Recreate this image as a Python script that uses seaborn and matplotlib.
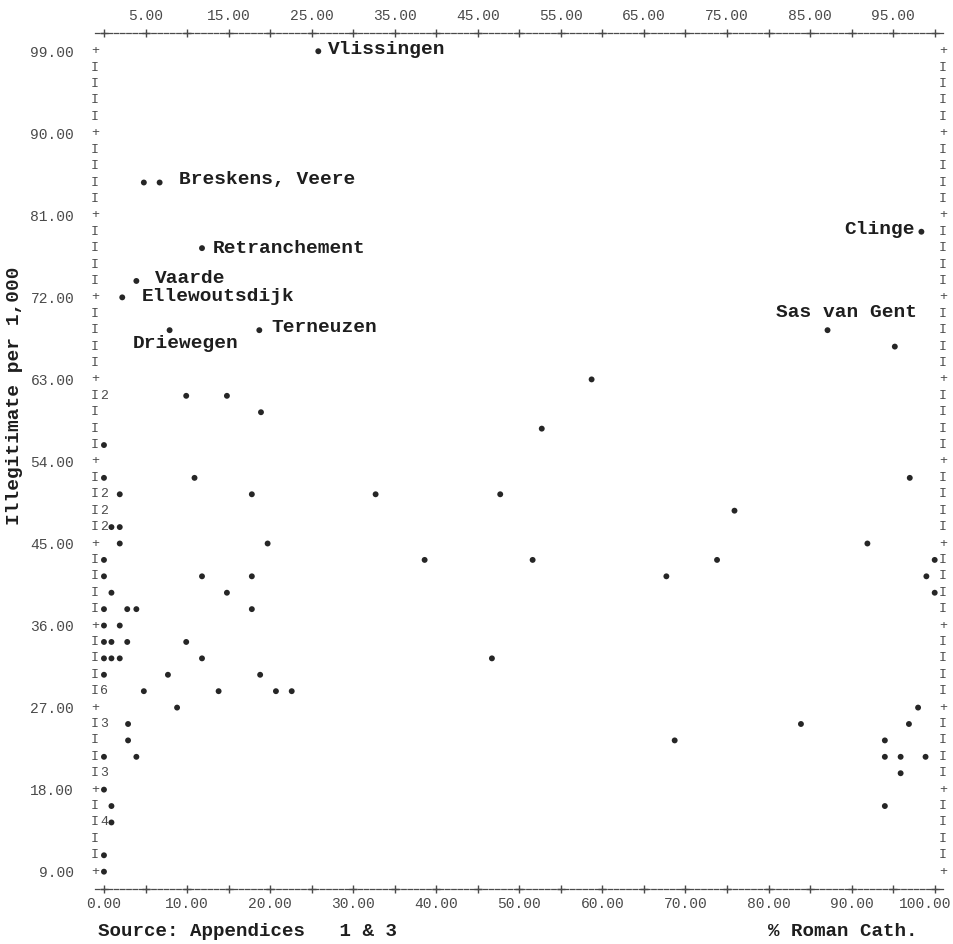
"""Line-printer style scatter: illegitimacy rate against % Roman Catholic."""

import numpy as np
import pandas as pd
import matplotlib

matplotlib.use("Agg")
import matplotlib.pyplot as plt
import matplotlib.transforms as mtransforms
import seaborn as sns

# named places: % Roman Catholic, illegitimate births per 1,000
place_names = ["Vlissingen", "Breskens", "Veere", "Retranchement", "Vaarde",
               "Ellewoutsdijk", "Driewegen", "Terneuzen", "Clinge", "Sas van Gent"]
place_pct = [25.8, 4.8, 6.7, 11.8, 3.9, 2.2, 7.9, 18.7, 98.4, 87.1]
place_rate = [99.0, 84.6, 84.6, 77.4, 73.8, 72.0, 68.4, 68.4, 79.2, 68.4]

# the rest of the communes (one row of the printout per line)
other_pct = [95.2,
             58.7,
             9.9, 14.8,
             18.9,
             52.7,
             0.0,
             0.0, 10.9, 97.0,
             1.9, 17.8, 32.7, 47.7,
             75.9,
             0.9, 1.9,
             1.9, 19.7, 91.9,
             0.0, 38.6, 51.6, 73.8, 100.0,
             0.0, 11.8, 17.8, 67.7, 99.0,
             0.9, 14.8, 100.0,
             0.0, 2.8, 3.9, 17.8,
             0.0, 1.9,
             0.0, 0.9, 2.8, 9.9,
             0.0, 0.9, 1.9, 11.8, 46.7,
             0.0, 7.7, 18.8,
             4.8, 13.8, 20.7, 22.6,
             8.8, 98.0,
             2.9, 83.9, 96.9,
             2.9, 68.7, 94.0,
             0.0, 3.9, 94.0, 95.9, 98.9,
             95.9,
             0.0,
             0.9, 94.0,
             0.9,
             0.0,
             0.0]
other_rate = [66.6,
              63.0,
              61.2, 61.2,
              59.4,
              57.6,
              55.8,
              52.2, 52.2, 52.2,
              50.4, 50.4, 50.4, 50.4,
              48.6,
              46.8, 46.8,
              45.0, 45.0, 45.0,
              43.2, 43.2, 43.2, 43.2, 43.2,
              41.4, 41.4, 41.4, 41.4, 41.4,
              39.6, 39.6, 39.6,
              37.8, 37.8, 37.8, 37.8,
              36.0, 36.0,
              34.2, 34.2, 34.2, 34.2,
              32.4, 32.4, 32.4, 32.4, 32.4,
              30.6, 30.6, 30.6,
              28.8, 28.8, 28.8, 28.8,
              27.0, 27.0,
              25.2, 25.2, 25.2,
              23.4, 23.4, 23.4,
              21.6, 21.6, 21.6, 21.6, 21.6,
              19.8,
              18.0,
              16.2, 16.2,
              14.4,
              10.8,
              9.0]

# several communes on the same print cell at 0 % (printer shows the count)
stacked_rate = [61.2, 50.4, 48.6, 46.8, 28.8, 25.2, 19.8, 14.4]
stacked_count = [2, 2, 2, 2, 6, 3, 3, 4]

x_bottom_ticks = [0, 10, 20, 30, 40, 50, 60, 70, 80, 90, 100]
x_top_ticks = [5, 15, 25, 35, 45, 55, 65, 75, 85, 95]
y_ticks = [9, 18, 27, 36, 45, 54, 63, 72, 81, 90, 99]

MONO = ["Liberation Mono", "DejaVu Sans Mono"]
INK = "#1e1e1e"
GREY = "#4a4a4a"


def main() -> None:
    sns.set_theme(style="white")
    plt.rcParams["font.family"] = MONO

    points = pd.DataFrame({
        "pct": place_pct + other_pct,
        "rate": place_rate + other_rate,
    })

    fig = plt.figure(figsize=(9.54, 9.44), dpi=100)
    ax = fig.add_axes([95 / 954, 1 - 889 / 944, 848 / 954, 856 / 944])
    sns.scatterplot(data=points, x="pct", y="rate", ax=ax, s=18,
                    color="#262626", edgecolor="none", linewidth=0)
    ax.set_xlim(-1.08, 101.0)
    ax.set_ylim(7.1, 101.0)
    ax.set_xlabel("")
    ax.set_ylabel("")

    # frame drawn like a line printer: dashes on top/bottom, I's at the sides
    for side in ("left", "right"):
        ax.spines[side].set_visible(False)
    for side in ("top", "bottom"):
        ax.spines[side].set_visible(True)
        ax.spines[side].set_linestyle((0, (3.6, 1.4)))
        ax.spines[side].set_linewidth(0.9)
        ax.spines[side].set_color(GREY)

    xtrans = mtransforms.blended_transform_factory(ax.transData, ax.transAxes)
    plus_x = sorted(x_bottom_ticks + x_top_ticks)
    for yy in (0, 1):
        ax.plot(plus_x, [yy] * len(plus_x), transform=xtrans, ls="none",
                marker="+", ms=6, mew=1.0, color=GREY, clip_on=False)

    ytrans = mtransforms.blended_transform_factory(ax.transAxes, ax.transData)
    for row in np.arange(9.0, 99.01, 1.8):
        ch = "+" if abs(row / 9 - round(row / 9)) < 1e-6 else "I"
        for xx in (0, 1):
            ax.text(xx, row, ch, transform=ytrans, ha="center", va="center",
                    fontsize=9.5, color=GREY)

    for rate, n in zip(stacked_rate, stacked_count):
        ax.text(0, rate, str(n), ha="center", va="center", fontsize=9.5,
                color=GREY)

    # ticks and tick labels
    ax.set_xticks(x_bottom_ticks)
    ax.set_xticklabels([f"{v:.2f}" for v in x_bottom_ticks])
    ax.set_yticks(y_ticks)
    ax.set_yticklabels([f"{v:.2f}" for v in y_ticks])
    ax.tick_params(axis="x", length=0, pad=6, labelsize=10.5, labelcolor=GREY)
    ax.tick_params(axis="y", length=0, pad=15, labelsize=10.5, labelcolor=GREY)
    # last bottom label sits against the page edge
    last = ax.get_xticklabels()[-1]
    last.set_horizontalalignment("right")
    last.set_transform(last.get_transform() + mtransforms.ScaledTranslation(
        0.17, 0, fig.dpi_scale_trans))
    top = ax.secondary_xaxis("top")
    top.set_xticks(x_top_ticks)
    top.set_xticklabels([f"{v:.2f}" for v in x_top_ticks])
    top.tick_params(length=0, pad=7, labelsize=10.5, labelcolor=GREY)
    top.spines["top"].set_visible(False)

    # place names
    offsets = {
        "Vlissingen": (7, 1.4, "left"),
        "Veere": (13.7, 2, "left"),
        "Retranchement": (8, 0, "left"),
        "Vaarde": (13.7, 2, "left"),
        "Ellewoutsdijk": (14.4, 0.7, "left"),
        "Driewegen": (-26.6, -9.4, "left"),
        "Terneuzen": (8.6, 2, "left"),
        "Clinge": (-5, 1.4, "right"),
        "Sas van Gent": (13.7, 13, "center"),
    }
    label_text = {"Veere": "Breskens, Veere"}
    for name, px, py in zip(place_names, place_pct, place_rate):
        if name not in offsets:
            continue
        dx, dy, ha = offsets[name]
        ax.annotate(label_text.get(name, name), (px, py), xytext=(dx, dy),
                    textcoords="offset points", ha=ha, va="center",
                    fontsize=14, fontweight="bold", color=INK)

    fig.text(15 / 954, 1 - 396 / 944, "Illegitimate per 1,000", rotation=90,
             ha="center", va="center", fontsize=14, fontweight="bold", color=INK)
    fig.text(98 / 954, 1 - 931 / 944, "Source: Appendices   1 & 3",
             ha="left", va="center", fontsize=13.8, fontweight="bold", color=INK)
    fig.text(768 / 954, 1 - 932 / 944, "% Roman Cath.",
             ha="left", va="center", fontsize=13.8, fontweight="bold", color=INK)

    fig.savefig("out.png", dpi=100, facecolor="white")
    plt.close(fig)


if __name__ == "__main__":
    main()
